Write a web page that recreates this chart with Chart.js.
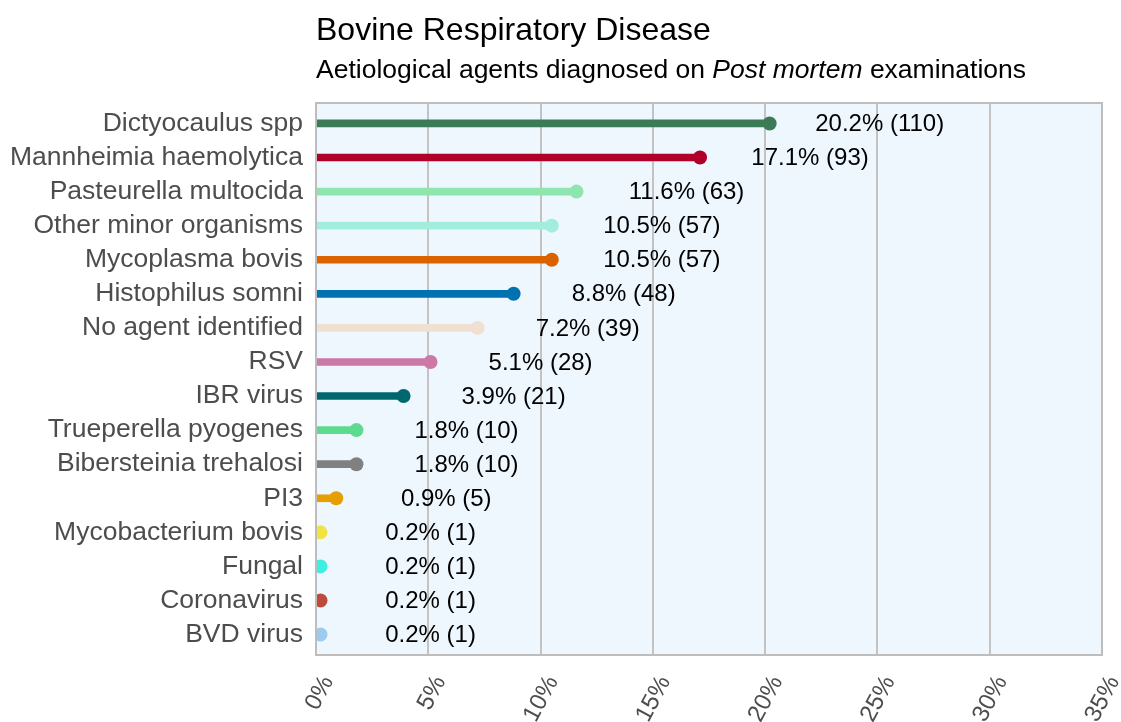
<!DOCTYPE html>
<html>
<head>
<meta charset="utf-8">
<script src="https://cdn.jsdelivr.net/npm/chart.js@4.4.1/dist/chart.umd.min.js"></script>
<style>
  html, body { margin: 0; padding: 0; background: #ffffff; }
  #wrap { width: 1121px; height: 722px; }
</style>
</head>
<body>
<div id="wrap"><canvas id="c" width="1121" height="722"></canvas></div>
<script>
const categories = [
  "Dictyocaulus spp", "Mannheimia haemolytica", "Pasteurella multocida",
  "Other minor organisms", "Mycoplasma bovis", "Histophilus somni",
  "No agent identified", "RSV", "IBR virus", "Trueperella pyogenes",
  "Bibersteinia trehalosi", "PI3", "Mycobacterium bovis", "Fungal",
  "Coronavirus", "BVD virus"
];
const percentValues = [20.2, 17.1, 11.6, 10.5, 10.5, 8.8, 7.2, 5.1, 3.9, 1.8, 1.8, 0.9, 0.2, 0.2, 0.2, 0.2];
const counts = [110, 93, 63, 57, 57, 48, 39, 28, 21, 10, 10, 5, 1, 1, 1, 1];
const colors = [
  "#3b7b58", "#b0002a", "#8ee5b0", "#a2eddb", "#da6300", "#0072b2",
  "#f0e0d2", "#cc79a7", "#00676e", "#5cdb8f", "#808080", "#e69f00",
  "#f0e442", "#3deee4", "#be4a3c", "#9acbf0"
];
const xTicks = [0, 5, 10, 15, 20, 25, 30, 35];

const FONT = "'Liberation Sans', Arial, Helvetica, sans-serif";
const LABEL_OFFSET = 4.9; // label centre offset, in percentage units
const CAT_EXPAND = 0.6;   // discrete axis expansion (ggplot style)

const decorPlugin = {
  id: 'decor',
  beforeDraw(chart) {
    const {ctx, chartArea: a} = chart;
    ctx.save();
    ctx.fillStyle = '#eef6fe';
    ctx.fillRect(a.left, a.top, a.right - a.left, a.bottom - a.top);
    ctx.restore();
  },
  afterDatasetsDraw(chart) {
    const {ctx, chartArea: a, scales} = chart;
    ctx.save();
    // value labels
    ctx.font = "24px " + FONT;
    ctx.fillStyle = '#000000';
    ctx.textAlign = 'center';
    ctx.textBaseline = 'middle';
    percentValues.forEach((v, i) => {
      const x = scales.x.getPixelForValue(v + LABEL_OFFSET);
      const y = scales.y.getPixelForValue(i);
      ctx.fillText(v.toFixed(1) + '% (' + counts[i] + ')', x, y + 1);
    });
    // panel border
    ctx.strokeStyle = '#bdbdbd';
    ctx.lineWidth = 2;
    ctx.strokeRect(a.left, a.top, a.right - a.left, a.bottom - a.top);
    // titles
    ctx.textAlign = 'left';
    ctx.textBaseline = 'alphabetic';
    ctx.fillStyle = '#000000';
    ctx.font = "32px " + FONT;
    ctx.fillText("Bovine Respiratory Disease", a.left, 40);
    let x = a.left;
    const y2 = 78;
    const parts = [["Aetiological agents diagnosed on ", false], ["Post mortem", true], [" examinations", false]];
    parts.forEach(([t, it]) => {
      ctx.font = (it ? "italic " : "") + "26.5px " + FONT;
      ctx.fillText(t, x, y2);
      x += ctx.measureText(t).width;
    });
    ctx.restore();
  }
};

new Chart(document.getElementById('c'), {
  data: {
    labels: categories,
    datasets: [
      {
        type: 'bar',
        data: percentValues,
        backgroundColor: colors,
        borderWidth: 0,
        barThickness: 7,
        clip: 0
      },
      {
        type: 'line',
        indexAxis: 'y',
        data: percentValues,
        showLine: false,
        pointRadius: 7,
        pointHoverRadius: 7,
        pointBorderWidth: 0,
        pointBackgroundColor: colors,
        pointBorderColor: colors,
        clip: 0
      }
    ]
  },
  options: {
    indexAxis: 'y',
    responsive: false,
    animation: false,
    layout: { padding: { top: 103, right: 19, bottom: 0, left: 0 } },
    plugins: {
      legend: { display: false },
      tooltip: { enabled: false },
      title: { display: false }
    },
    scales: {
      x: {
        type: 'linear',
        min: 0,
        max: 35,
        afterBuildTicks(scale) { scale.ticks = xTicks.map(v => ({ value: v })); },
        afterFit(scale) { scale.height = 67; scale.paddingRight = 0; scale.paddingLeft = 0; },
        grid: { color: '#c3c3c3', lineWidth: 2, drawTicks: false },
        border: { display: false },
        ticks: {
          callback: v => v + '%',
          minRotation: 62,
          maxRotation: 62,
          padding: 16,
          labelOffset: 12,
          color: '#4d4d4d',
          font: { family: FONT, size: 24 }
        }
      },
      y: {
        type: 'category',
        offset: false,
        afterBuildTicks(scale) {
          scale.ticks = categories.map((c, i) => ({ value: i }));
          scale._startValue = -CAT_EXPAND;
          scale._valueRange = categories.length - 1 + 2 * CAT_EXPAND;
        },
        afterFit(scale) { scale.width = 316; scale.paddingTop = 0; scale.paddingBottom = 0; },
        grid: { display: false, drawTicks: false },
        border: { display: false },
        ticks: {
          callback: (v, i) => categories[i],
          padding: 13,
          color: '#4d4d4d',
          font: { family: FONT, size: 26.5 },
          autoSkip: false
        }
      }
    }
  },
  plugins: [decorPlugin]
});
</script>
</body>
</html>
